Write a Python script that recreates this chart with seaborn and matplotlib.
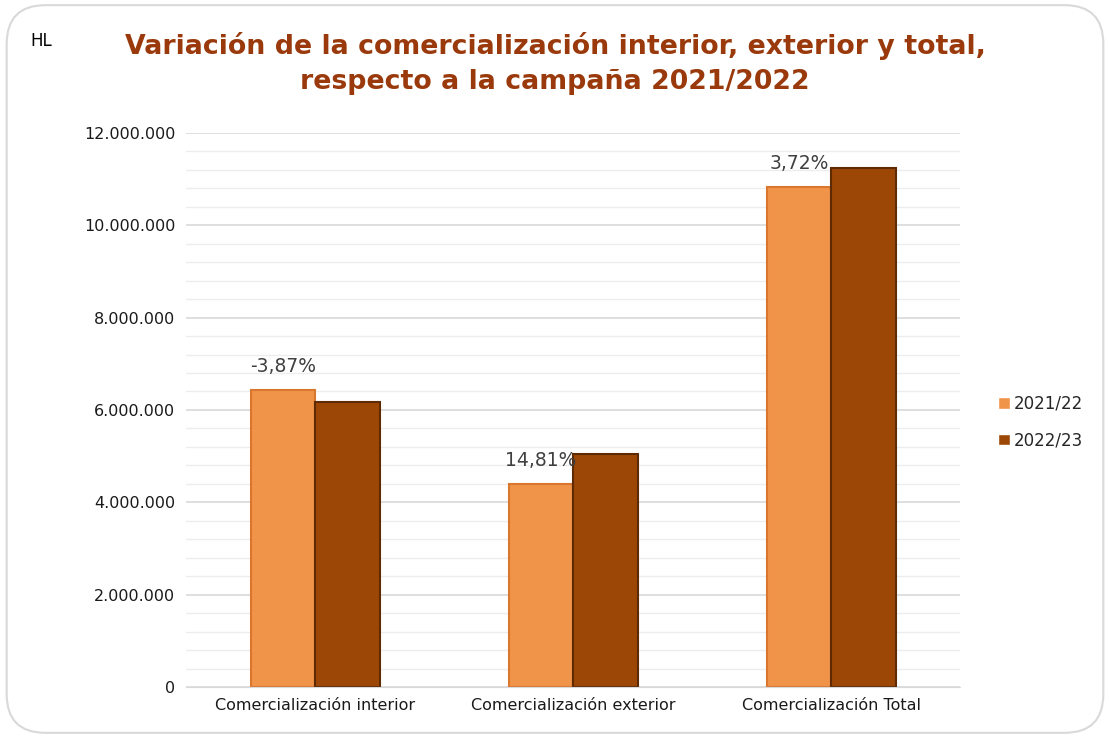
import pandas as pd
import matplotlib.pyplot as plt
import seaborn as sns
from matplotlib.patches import FancyBboxPatch
from matplotlib.ticker import FuncFormatter, MultipleLocator

categorias = ["Comercialización interior", "Comercialización exterior", "Comercialización Total"]
campanas = ["2021/22", "2022/23"]
valores_2122 = [6430000, 4400000, 10830000]
valores_2223 = [6180000, 5050000, 11230000]
variaciones = ["-3,87%", "14,81%", "3,72%"]

df = pd.DataFrame({
    "Categoria": categorias * 2,
    "Campaña": [campanas[0]] * 3 + [campanas[1]] * 3,
    "HL": valores_2122 + valores_2223,
})

sns.set_style("white")
plt.rcParams['font.family'] = ['DejaVu Sans']

colores = {"2021/22": "#F0944A", "2022/23": "#9C4706"}
bordes = {"2021/22": "#D9772E", "2022/23": "#5E2A02"}

fig = plt.figure(figsize=(11.1, 7.38), dpi=100)
ax = fig.add_axes([0.168, 0.069, 0.697, 0.751])

sns.barplot(data=df, x="Categoria", y="HL", hue="Campaña", palette=colores,
            width=0.5, gap=0, ax=ax, saturation=1)

for i, cont in enumerate(ax.containers):
    campana = campanas[i]
    for p in cont.patches:
        p.set_edgecolor(bordes[campana])
        p.set_linewidth(1.5)

# etiquetas de variación sobre la barra 2021/22
for p, txt in zip(ax.containers[0].patches, variaciones):
    ax.text(p.get_x() + p.get_width() / 2, p.get_height() + 300000, txt,
            ha='center', va='bottom', fontsize=13.5, color='#404040')

ax.set_ylim(0, 12000000)
ax.set_xlim(-0.5, 2.5)
ax.yaxis.set_major_locator(MultipleLocator(2000000))
ax.yaxis.set_minor_locator(MultipleLocator(400000))
ax.yaxis.set_major_formatter(FuncFormatter(lambda v, _: f"{int(v):,}".replace(",", ".")))
ax.grid(axis='y', which='major', color='#D9D9D9', linewidth=1.2)
ax.grid(axis='y', which='minor', color='#EDEDED', linewidth=1.0)
ax.set_axisbelow(True)
for s in ["top", "right", "left"]:
    ax.spines[s].set_visible(False)
ax.spines["bottom"].set_color('#D9D9D9')
ax.tick_params(axis='both', which='both', length=0, labelsize=11.5, colors='#1a1a1a', pad=8)
ax.set_xlabel("")
ax.set_ylabel("")

ax.legend(loc='center left', bbox_to_anchor=(1.03, 0.478), frameon=False,
          fontsize=12, handlelength=0.7, handleheight=0.7, handletextpad=0.2,
          labelspacing=1.1)

fig.text(0.5, 0.914, "Variación de la comercialización interior, exterior y total,\nrespecto a la campaña 2021/2022",
         ha='center', va='center', fontsize=19.3, fontweight='bold', color='#9A3A0C',
         linespacing=1.45)
fig.text(0.027, 0.945, "HL", fontsize=12, color='black', va='center')

fig.patches.append(FancyBboxPatch((0.006, 0.007), 0.988, 0.986, boxstyle="round,pad=0,rounding_size=0.035",
                                  transform=fig.transFigure, fill=False, edgecolor='#D9D9D9',
                                  linewidth=1.5, mutation_aspect=1110 / 738))

fig.savefig("out.png", dpi=100)
